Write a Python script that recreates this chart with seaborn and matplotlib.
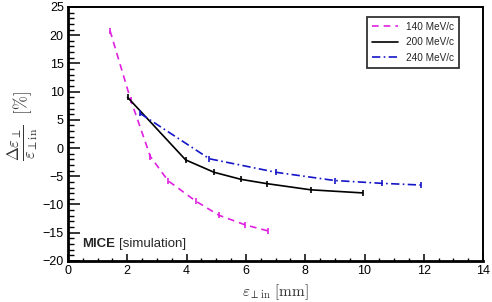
import numpy as np
import pandas as pd
import matplotlib
matplotlib.use("Agg")
import matplotlib.pyplot as plt
import seaborn as sns
from matplotlib.ticker import MultipleLocator

# emittance data
x_140 = [1.42, 2.12, 2.78, 3.38, 4.31, 5.09, 5.97, 6.76]
y_140 = [20.8, 8.5, -1.5, -5.8, -9.4, -11.9, -13.6, -14.7]
x_200 = [2.01, 3.97, 4.93, 5.84, 6.70, 8.19, 9.94]
y_200 = [9.0, -2.1, -4.3, -5.55, -6.3, -7.4, -7.95]
x_240 = [2.43, 4.77, 7.02, 8.99, 10.58, 11.9]
y_240 = [6.15, -1.9, -4.3, -5.75, -6.25, -6.55]
labels = ["140 MeV/c", "200 MeV/c", "240 MeV/c"]

sns.set_theme(style="ticks")
plt.rcParams['font.family'] = ['Liberation Sans', 'DejaVu Sans']
plt.rcParams['mathtext.fontset'] = 'cm'

fig = plt.figure(figsize=(4.92, 3.02), dpi=100)
ax = fig.add_axes([0.138, 0.136, 0.844, 0.841])

series = [
    (x_140, y_140, labels[0], "#e020e0", (4, 3)),
    (x_200, y_200, labels[1], "black", ""),
    (x_240, y_240, labels[2], "#1515c8", (5, 2, 1, 2)),
]
for xs, ys, lab, col, dash in series:
    df = pd.DataFrame({"x": xs, "y": ys})
    sns.lineplot(data=df, x="x", y="y", ax=ax, color=col, sort=False,
                 label=lab, linewidth=1.2, marker="|", markersize=5,
                 markeredgewidth=1.2, markeredgecolor=col)
    if dash:
        ax.lines[-1].set_dashes(dash)

ax.set_xlim(0, 14)
ax.set_ylim(-20, 25)
ax.xaxis.set_major_locator(MultipleLocator(2))
ax.xaxis.set_minor_locator(MultipleLocator(0.5))
ax.yaxis.set_major_locator(MultipleLocator(5))
ax.yaxis.set_minor_locator(MultipleLocator(1))
ax.tick_params(which="both", direction="in", top=False, right=False,
               labelsize=9, color="black", labelcolor="black")
# ROOT style: y ticks longer than x ticks
ax.tick_params(axis="y", which="major", length=8.5, width=1.1, pad=3)
ax.tick_params(axis="y", which="minor", length=4.3, width=1.0)
ax.tick_params(axis="x", which="major", length=5, width=1.1, pad=3)
ax.tick_params(axis="x", which="minor", length=2.5, width=1.0)

for side in ["left", "bottom"]:
    ax.spines[side].set_linewidth(2)
for side in ["top", "right"]:
    ax.spines[side].set_linewidth(1.4)
for sp in ax.spines.values():
    sp.set_color("black")

ax.set_xlabel(r"$\varepsilon_{\perp\mathrm{in}}\ [\mathrm{mm}]$", fontsize=11,
              color="#333333")
ax.xaxis.set_label_coords(0.5, -0.085)
ax.set_ylabel(r"$\dfrac{\Delta\varepsilon_{\perp}}{\varepsilon_{\perp\mathrm{in}}}\ \ [\%]$",
              fontsize=12, color="#333333")
ax.yaxis.set_label_coords(-0.068, 0.53)

leg = ax.legend(loc="upper left", bbox_to_anchor=(0.72, 0.962), borderaxespad=0,
                fontsize=7.2, frameon=True, fancybox=False, handlelength=2.6,
                borderpad=0.5, labelspacing=0.55, handletextpad=0.8)
leg.get_frame().set_edgecolor("black")
leg.get_frame().set_linewidth(1.3)
for h in leg.get_lines():
    h.set_marker("")

ax.text(0.035, 0.056, "MICE", transform=ax.transAxes, fontsize=9.5,
        fontweight="bold", ha="left", va="baseline")
ax.text(0.124, 0.056, "[simulation]", transform=ax.transAxes, fontsize=9.5,
        ha="left", va="baseline")

fig.savefig("out.png", dpi=100)
